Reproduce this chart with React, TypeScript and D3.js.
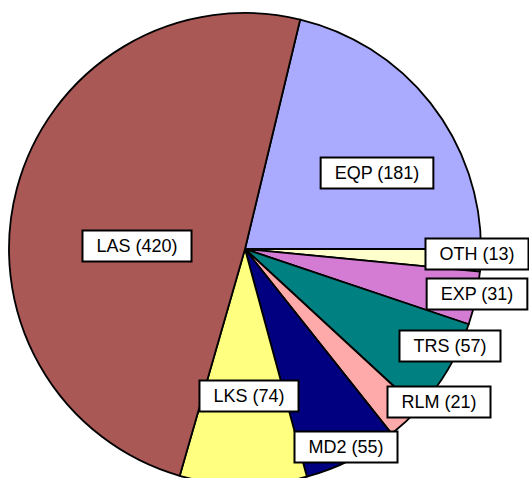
import { useEffect, useRef } from "react"
import * as d3 from "d3"

const categories = ["EQP", "OTH", "EXP", "TRS", "RLM", "MD2", "LKS", "LAS"]
const values = [181, 13, 31, 57, 21, 55, 74, 420]
const colors = ["#AAAAFF", "#FFFFCC", "#D47CD4", "#008080", "#FFAAAA", "#000080", "#FFFF80", "#A95855"]

// label box centres, offset from the pie centre
const labelOffsets: [number, number][] = [
  [132, -76], [232, 5], [232, 45], [205, 97], [194, 153], [101, 198], [4, 147], [-108, -3],
]

export default function App() {
  const svgRef = useRef<SVGSVGElement>(null)

  useEffect(() => {
    if (!svgRef.current) return
    const svg = d3.select(svgRef.current)
    svg.selectAll("*").remove()

    const width = 529
    const height = 478
    const cx = 245
    const cy = 249
    const radius = 236

    svg.attr("width", width).attr("height", height)

    const total = d3.sum(values)
    // first slice (EQP) ends exactly at 3 o'clock
    const start = Math.PI / 2 - (values[0] / total) * 2 * Math.PI

    const pie = d3.pie<number>()
      .sort(null)
      .value(d => d)
      .startAngle(start)
      .endAngle(start + 2 * Math.PI)

    const arc = d3.arc<d3.PieArcDatum<number>>()
      .innerRadius(0)
      .outerRadius(radius)

    const g = svg.append("g").attr("transform", `translate(${cx},${cy})`)

    g.selectAll("path")
      .data(pie(values))
      .join("path")
      .attr("d", arc)
      .attr("fill", (_d, i) => colors[i])
      .attr("stroke", "#000")
      .attr("stroke-width", 1.8)
      .attr("stroke-linejoin", "round")

    // Labels
    const labels = g.append("g")
    categories.forEach((cat, i) => {
      const [dx, dy] = labelOffsets[i]
      const lg = labels.append("g").attr("transform", `translate(${dx},${dy})`)
      const rect = lg.append("rect")
      const text = lg.append("text")
        .attr("text-anchor", "middle")
        .attr("dy", "0.36em")
        .attr("font-family", "Liberation Sans, Arial, sans-serif")
        .attr("font-size", 18)
        .attr("fill", "#000")
        .text(`${cat} (${values[i]})`)
      const w = (text.node() as SVGTextElement).getComputedTextLength() + 28
      const h = 31
      rect
        .attr("x", -w / 2)
        .attr("y", -h / 2)
        .attr("width", w)
        .attr("height", h)
        .attr("fill", "#fff")
        .attr("stroke", "#000")
        .attr("stroke-width", 2)
    })
  }, [])

  return (
    <div style={{ position: "fixed", left: 0, top: 0, width: 529, height: 478, background: "#fff" }}>
      <svg ref={svgRef} style={{ display: "block" }}></svg>
    </div>
  )
}
